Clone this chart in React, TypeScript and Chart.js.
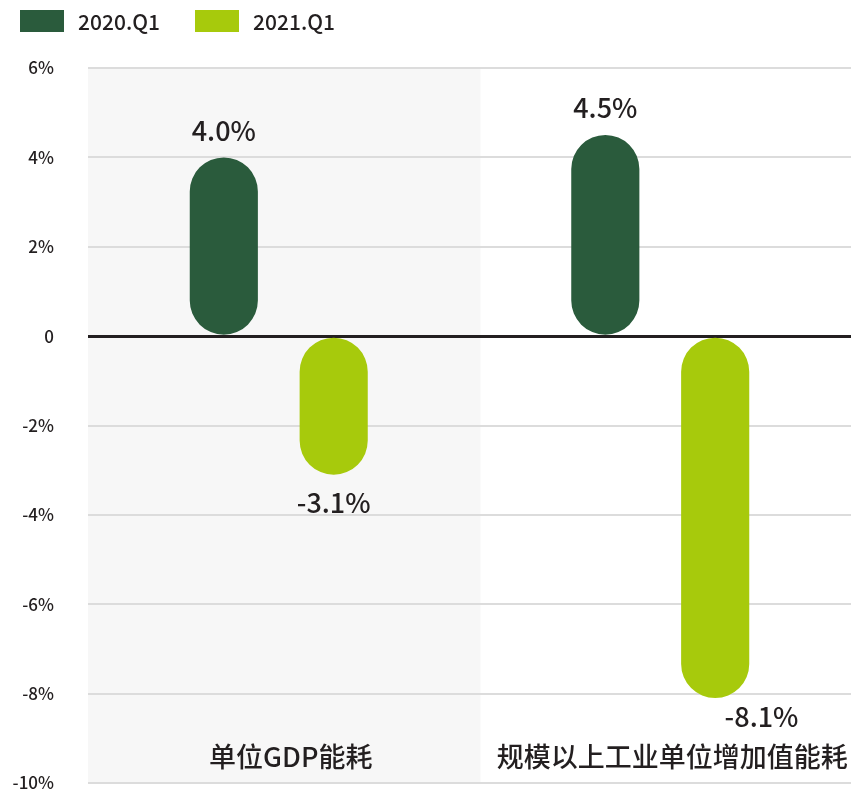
import React, { useEffect, useRef } from "react";
import { Chart, registerables } from "chart.js";

Chart.register(...registerables);

const categories = ["单位GDP能耗", "规模以上工业单位增加值能耗"];
const seriesLabels = ["2020.Q1", "2021.Q1"];
const series2020 = [4.0, 4.5];
const series2021 = [-3.1, -8.1];
const yMin = -10;
const yMax = 6;
const yStep = 2;

const DARK = "#2a5b3c";
const LIGHT = "#a7ca0c";
const TEXT = "#231f20";
const FONT = "'Noto Sans CJK SC', 'Noto Sans', sans-serif";
const colors = [DARK, LIGHT];

const decoPlugin = {
  id: "deco",
  beforeDraw(chart: any) {
    const { ctx, chartArea, scales } = chart;
    const x = scales.x;
    const split = (x.getPixelForValue(0) + x.getPixelForValue(1)) / 2 + 11;
    ctx.save();
    ctx.fillStyle = "#f7f7f7";
    ctx.fillRect(chartArea.left, chartArea.top, split - chartArea.left, chartArea.bottom - chartArea.top);
    ctx.restore();
  },
  afterDatasetsDraw(chart: any) {
    const { ctx, chartArea, scales } = chart;
    const x = scales.x;
    const catY = chartArea.bottom - 26;
    ctx.save();
    ctx.fillStyle = TEXT;
    ctx.textAlign = "center";
    ctx.textBaseline = "middle";
    ctx.font = `500 27px ${FONT}`;
    categories.forEach((c, i) => {
      ctx.fillText(c, x.getPixelForValue(i) + 12, catY);
    });
    ctx.font = `500 27px ${FONT}`;
    chart.data.datasets.forEach((ds: any, di: number) => {
      const meta = chart.getDatasetMeta(di);
      meta.data.forEach((el: any, i: number) => {
        const v = ds.data[i];
        const txt = v.toFixed(1) + "%";
        let tx = el.x;
        let ty: number;
        if (v >= 0) {
          ty = el.y - 27;
        } else {
          ty = el.y + 28;
          if (ty + 14 > catY - 24) {
            ty = el.y + 19;
            tx = el.x + el.width * 0.68;
          }
        }
        ctx.fillText(txt, tx, ty);
      });
    });
    ctx.restore();
  },
};

export default function App() {
  const ref = useRef<HTMLCanvasElement>(null);
  useEffect(() => {
    const chart = new Chart(ref.current!, {
      type: "bar",
      data: {
        labels: categories,
        datasets: [
          { label: seriesLabels[0], data: series2020, backgroundColor: colors[0] },
          { label: seriesLabels[1], data: series2021, backgroundColor: colors[1] },
        ].map((d) => ({
          ...d,
          borderRadius: 40,
          borderSkipped: false,
          barPercentage: 0.62,
          categoryPercentage: 0.576,
        })),
      },
      options: {
        responsive: true,
        maintainAspectRatio: false,
        animation: false,
        layout: { padding: { top: 68, bottom: 13, left: 0, right: 0 } },
        plugins: { legend: { display: false }, tooltip: { enabled: false } },
        scales: {
          x: { display: false, offset: true },
          y: {
            min: yMin,
            max: yMax,
            afterFit(scale: any) {
              scale.width = 88;
              scale.paddingTop = 0;
              scale.paddingBottom = 0;
            },
            border: { display: false },
            grid: {
              drawTicks: false,
              color: (c: any) => (c.tick && c.tick.value === 0 ? TEXT : "#dcdcdc"),
              lineWidth: (c: any) => (c.tick && c.tick.value === 0 ? 3 : 2),
            },
            ticks: {
              stepSize: yStep,
              padding: 34,
              color: TEXT,
              font: { family: FONT, size: 17, weight: "500" },
              callback: (v: any) => (v === 0 ? "0" : `${v}%`),
            },
          },
        },
      },
      plugins: [decoPlugin],
    } as any);
    return () => chart.destroy();
  }, []);

  return (
    <div style={{ position: "fixed", left: 0, top: 0, width: 851, height: 796, background: "#fff" }}>
      <div style={{ position: "absolute", left: 0, top: 0, width: 851, height: 796 }}>
        <canvas ref={ref} />
      </div>
      {seriesLabels.map((s, i) => (
        <div
          key={s}
          style={{
            position: "absolute",
            top: 10,
            left: i === 0 ? 20 : 195,
            display: "flex",
            alignItems: "center",
            height: 22,
            fontFamily: FONT,
            fontSize: 21,
            fontWeight: 500,
            color: TEXT,
          }}
        >
          <span style={{ display: "inline-block", width: 44, height: 22, background: colors[i], marginRight: 14 }} />
          <span>{s}</span>
        </div>
      ))}
    </div>
  );
}
